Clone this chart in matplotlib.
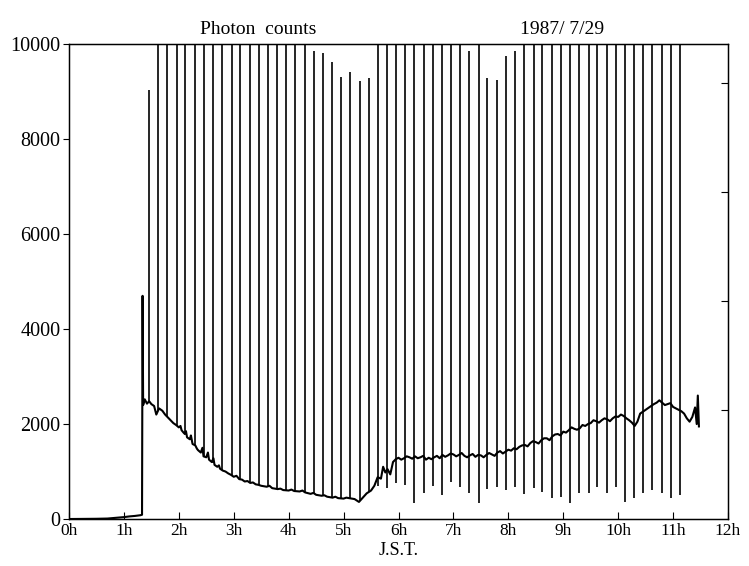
import numpy as np
import matplotlib.pyplot as plt

base_t = [0.00, 0.50, 0.70, 0.85, 1.00, 1.10, 1.20, 1.30, 1.33, 1.34, 1.35, 1.38, 1.42,
          1.46, 1.50, 1.55, 1.59, 1.64, 1.70, 1.75, 1.80, 1.85, 1.90, 1.95, 2.00, 2.03,
          2.05, 2.10, 2.13, 2.15, 2.20, 2.22, 2.25, 2.30, 2.33, 2.35, 2.40, 2.43, 2.45,
          2.50, 2.53, 2.55, 2.60, 2.63, 2.65, 2.70, 2.73, 2.75, 2.80, 2.85, 2.90, 2.95,
          3.00, 3.05, 3.10, 3.15, 3.20, 3.25, 3.30, 3.35, 3.40, 3.45, 3.50, 3.60, 3.65,
          3.70, 3.80, 3.85, 3.90, 4.00, 4.05, 4.10, 4.20, 4.25, 4.30, 4.40, 4.45, 4.50,
          4.60, 4.65, 4.70, 4.80, 4.85, 4.90, 5.00, 5.05, 5.10, 5.20, 5.28, 5.35, 5.42,
          5.50, 5.56, 5.62, 5.68, 5.72, 5.76, 5.80, 5.85, 5.90, 5.95, 6.00, 6.05, 6.10,
          6.15, 6.20, 6.25, 6.30, 6.35, 6.40, 6.45, 6.50, 6.55, 6.60, 6.65, 6.70, 6.75,
          6.80, 6.85, 6.90, 6.95, 7.00, 7.05, 7.10, 7.15, 7.20, 7.25, 7.30, 7.35, 7.40,
          7.45, 7.50, 7.55, 7.60, 7.65, 7.70, 7.75, 7.80, 7.85, 7.90, 7.95, 8.00, 8.05,
          8.10, 8.15, 8.20, 8.25, 8.30, 8.35, 8.40, 8.45, 8.50, 8.55, 8.60, 8.65, 8.70,
          8.75, 8.80, 8.85, 8.90, 8.95, 9.00, 9.05, 9.10, 9.15, 9.20, 9.25, 9.30, 9.35,
          9.40, 9.45, 9.50, 9.55, 9.60, 9.65, 9.70, 9.75, 9.80, 9.85, 9.90, 9.95, 10.00,
          10.05, 10.10, 10.15, 10.20, 10.25, 10.30, 10.35, 10.40, 10.45, 10.50, 10.55,
          10.60, 10.65, 10.70, 10.75, 10.80, 10.85, 10.90, 10.95, 11.00, 11.05, 11.10,
          11.15, 11.20, 11.25, 11.30, 11.35, 11.40, 11.43, 11.45, 11.47]
base_v = [0, 5, 10, 25, 40, 55, 65, 80, 90, 4700, 2400, 2520, 2430,
          2480, 2420, 2380, 2200, 2330, 2280, 2200, 2140, 2080, 2020, 1980, 1930, 1960,
          1870, 1800, 1850, 1720, 1680, 1760, 1580, 1550, 1480, 1450, 1400, 1500, 1320,
          1300, 1400, 1250, 1200, 1280, 1140, 1100, 1130, 1060, 1020, 1000, 960, 930,
          890, 910, 840, 830, 790, 800, 760, 770, 730, 720, 700, 680, 700,
          650, 630, 640, 610, 600, 620, 590, 580, 600, 560, 530, 550, 510,
          490, 500, 470, 450, 470, 440, 430, 450, 440, 420, 360, 450, 540,
          600, 700, 880, 850, 1100, 980, 1050, 940, 1200, 1260, 1290, 1250, 1280,
          1320, 1300, 1270, 1320, 1280, 1300, 1330, 1250, 1290, 1260, 1300, 1330, 1280,
          1350, 1310, 1340, 1380, 1360, 1320, 1350, 1390, 1330, 1300, 1340, 1370, 1310,
          1350, 1340, 1300, 1350, 1390, 1360, 1330, 1400, 1430, 1380, 1420, 1460, 1440,
          1490, 1470, 1520, 1550, 1560, 1530, 1600, 1640, 1620, 1590, 1660, 1700, 1700,
          1660, 1740, 1780, 1790, 1760, 1840, 1820, 1870, 1930, 1900, 1880, 1910, 1980,
          1960, 2000, 2020, 2080, 2060, 2030, 2080, 2120, 2100, 2060, 2120, 2160, 2150,
          2200, 2170, 2120, 2080, 2030, 1960, 2050, 2220, 2260, 2300, 2340,
          2380, 2420, 2450, 2500, 2450, 2400, 2420, 2440, 2360, 2330, 2300,
          2270, 2220, 2120, 2050, 2150, 2350, 2000, 2600, 1950]

# calibration pulses every 10 min
spike_t = [1.46, 1.62, 1.79, 1.96, 2.12, 2.29, 2.46, 2.62, 2.79, 2.96, 3.12, 3.29,
           3.46, 3.62, 3.79, 3.96, 4.12, 4.29, 4.46, 4.62, 4.79, 4.96, 5.12, 5.29,
           5.46, 5.62, 5.79, 5.96, 6.12, 6.29, 6.46, 6.62, 6.79, 6.96, 7.12, 7.29,
           7.46, 7.62, 7.79, 7.96, 8.12, 8.29, 8.46, 8.62, 8.79, 8.96, 9.12, 9.29,
           9.46, 9.62, 9.79, 9.96, 10.12, 10.29, 10.46, 10.62, 10.79, 10.96, 11.12]
spike_peak = [9040] + [10000] * 17 + [9850, 9820, 9620, 9300, 9410, 9230, 9280] + \
             [10000] * 10 + [9850, 10000, 9280, 9240, 9740, 9860] + [10000] * 18
spike_low = [2480, 2300, 2140, 1950, 1760, 1550, 1330, 1170, 1030, 920, 840, 770,
             715, 670, 630, 605, 590, 560, 520, 490, 455, 435, 440, 370,
             560, 700, 650, 750, 715, 330, 545, 695, 505, 785, 680, 540,
             330, 625, 680, 610, 680, 525, 645, 575, 435, 470, 330, 540,
             540, 680, 540, 680, 365, 435, 540, 610, 540, 435, 505]

hours = list(range(13))
hour_labels = [f"{h}h" for h in hours]
count_ticks = [0, 2000, 4000, 6000, 8000, 10000]
right_ticks = [10, 20, 30, 40]

plt.rcParams['font.family'] = ['Liberation Serif', 'DejaVu Serif']

fig = plt.figure(figsize=(7.49, 5.66), dpi=100)
ax = fig.add_axes([0.0921, 0.083, 0.8799, 0.839])

ax.plot(base_t, base_v, color='black', lw=1.5)
ax.vlines(spike_t, spike_low, spike_peak, color='black', lw=1.2)

ax.set_xlim(0, 12)
ax.set_ylim(0, 10000)
ax.set_xticks(hours)
ax.set_xticklabels(hour_labels, fontsize=12.5)
ax.set_yticks(count_ticks)
ax.set_yticklabels([str(c) for c in count_ticks], fontsize=14.5)
ax.tick_params(axis='x', direction='in', length=5, pad=3)
ax.tick_params(axis='y', direction='out', length=4, pad=2)
for s in ax.spines.values():
    s.set_linewidth(1.0)

# unlabeled right scale
ax2 = ax.twinx()
ax2.set_ylim(0, 43.6)
ax2.set_yticks(right_ticks)
ax2.set_yticklabels([])
ax2.tick_params(axis='y', direction='in', length=5)

fig.text(0.345, 0.94, "Photon  counts", fontsize=14, ha='center')
fig.text(0.75, 0.94, "1987/ 7/29", fontsize=14, ha='center')
ax.set_xlabel("J.S.T.", fontsize=13, labelpad=2)

fig.savefig("out.png", dpi=100)
